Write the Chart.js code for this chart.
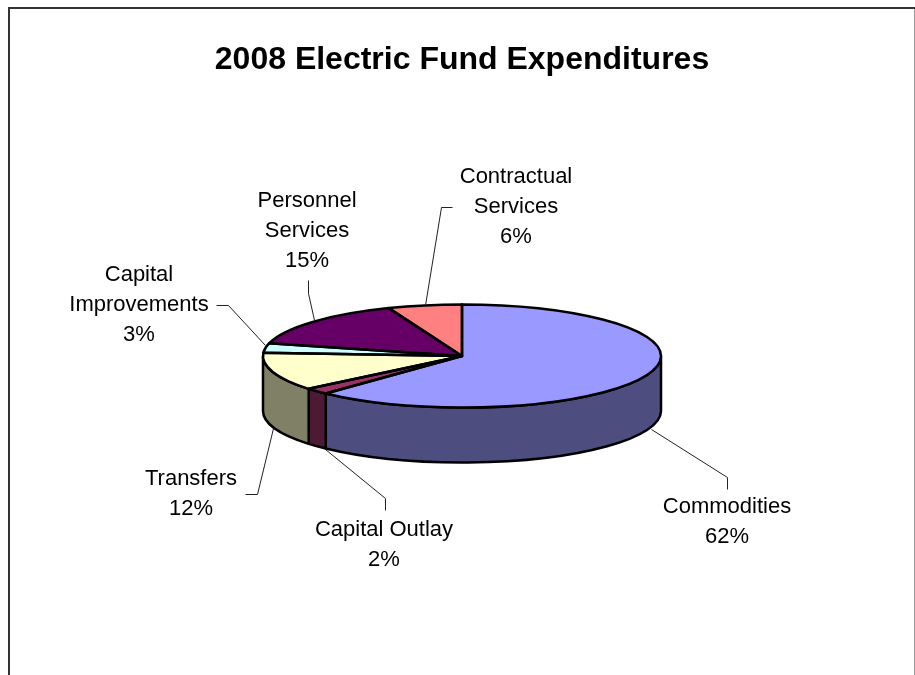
<!DOCTYPE html>
<html>
<head>
<meta charset="utf-8">
<title>2008 Electric Fund Expenditures</title>
<script src="https://cdn.jsdelivr.net/npm/chart.js@4/dist/chart.umd.js"></script>
<style>
  html, body { margin: 0; padding: 0; background: #fff; overflow: hidden; }
  canvas { display: block; }
</style>
</head>
<body>
<canvas id="myChart" width="915" height="675"></canvas>
<script>
const categories = ["Commodities", "Capital Outlay", "Transfers", "Capital Improvements", "Personnel Services", "Contractual Services"];
const values = [62, 2, 12, 3, 15, 6];
const labelLines = [["Commodities"], ["Capital Outlay"], ["Transfers"], ["Capital", "Improvements"], ["Personnel", "Services"], ["Contractual", "Services"]];

const topColors = ["#9999FF", "#993366", "#FFFFCC", "#CCFFFF", "#660066", "#FF8080"];
const wallColors = ["#4D4D80", "#4D1A33", "#808066", "#668080", "#330033", "#804040"];

// pie proportions: the circle is flattened to an ellipse and given a side wall
const RADIUS = 199;
const SQUASH = 51.5 / 199;
const DEPTH = 55;
const FONT = '22px "Liberation Sans", Arial, sans-serif';
const LINE_HEIGHT = 30;

// label centre (x, y of first line) and its leader line, per slice
const labelPos = [[727, 507], [384, 530], [191, 479], [139, 275], [307, 201], [516, 177]];
const leaders = [
  [[727, 489], [727, 477], [651, 429]],
  [[385, 510], [385, 498], [325, 449]],
  [[245, 494], [257, 494], [273, 428]],
  [[216, 305], [228, 305], [265, 345]],
  [[308, 280], [308, 293], [314, 320]],
  [[452, 207], [441, 207], [425, 305]],
];

const frame = {
  id: "frame",
  beforeDraw(chart) {
    const ctx = chart.ctx;
    ctx.save();
    ctx.fillStyle = "#fff";
    ctx.fillRect(0, 0, chart.width, chart.height);
    ctx.fillStyle = "#333";
    ctx.fillRect(8, 7, 907, 2);
    ctx.fillRect(8, 7, 2, 668);
    ctx.fillStyle = "#999";
    ctx.fillRect(914, 9, 1, 666);
    ctx.restore();
  },
};

const pie3d = {
  id: "pie3d",
  beforeDatasetsDraw(chart) {
    const ctx = chart.ctx;
    const arcs = chart.getDatasetMeta(0).data;
    const rx = arcs[0].outerRadius;
    const ry = rx * SQUASH;
    const cx = arcs[0].x;
    const cy = arcs[0].y;

    // only the front half of the rim is visible
    ctx.save();
    ctx.strokeStyle = "#000";
    ctx.lineWidth = 2.5;
    ctx.lineJoin = "round";
    arcs.forEach((arc, i) => {
      const a0 = Math.max(arc.startAngle, 0);
      const a1 = Math.min(arc.endAngle, Math.PI);
      if (a1 <= a0) return;
      ctx.beginPath();
      ctx.ellipse(cx, cy, rx, ry, 0, a0, a1);
      ctx.ellipse(cx, cy + DEPTH, rx, ry, 0, a1, a0, true);
      ctx.closePath();
      ctx.fillStyle = wallColors[i];
      ctx.fill();
      ctx.stroke();
    });
    ctx.restore();

    // the library draws the slices inside this flattened space
    ctx.save();
    ctx.translate(cx, cy);
    ctx.scale(1, SQUASH);
    ctx.translate(-cx, -cy);
  },
  afterDatasetsDraw(chart) {
    const ctx = chart.ctx;
    ctx.restore();
    const arcs = chart.getDatasetMeta(0).data;

    ctx.save();
    ctx.strokeStyle = "#000";
    ctx.lineWidth = 2.5;
    ctx.lineJoin = "round";
    arcs.forEach((arc) => {
      ctx.beginPath();
      ctx.moveTo(arc.x, arc.y);
      ctx.ellipse(arc.x, arc.y, arc.outerRadius, arc.outerRadius * SQUASH, 0, arc.startAngle, arc.endAngle);
      ctx.closePath();
      ctx.stroke();
    });

    ctx.strokeStyle = "#222";
    ctx.lineWidth = 1;
    leaders.forEach((pts) => {
      ctx.beginPath();
      pts.forEach((p, i) => {
        if (i === 0) ctx.moveTo(p[0] + 0.5, p[1] + 0.5);
        else ctx.lineTo(p[0] + 0.5, p[1] + 0.5);
      });
      ctx.stroke();
    });

    ctx.fillStyle = "#000";
    ctx.font = FONT;
    ctx.textAlign = "center";
    ctx.textBaseline = "middle";
    labelLines.forEach((lines, i) => {
      const rows = lines.concat(values[i] + "%");
      rows.forEach((row, r) => {
        ctx.fillText(row, labelPos[i][0], labelPos[i][1] + r * LINE_HEIGHT);
      });
    });
    ctx.restore();
  },
};

const canvas = document.getElementById("myChart");
new Chart(canvas, {
  type: "pie",
  data: {
    labels: categories,
    datasets: [{
      data: values,
      backgroundColor: topColors,
      borderWidth: 0,
      radius: RADIUS,
      clip: false,
    }],
  },
  options: {
    responsive: false,
    animation: false,
    events: [],
    layout: { padding: { left: 9, right: 0, top: 0, bottom: 42.4 } },
    plugins: {
      legend: { display: false },
      tooltip: { enabled: false },
      title: {
        display: true,
        text: "2008 Electric Fund Expenditures",
        color: "#000",
        font: { family: '"Liberation Sans", Arial, sans-serif', size: 32, weight: "bold", lineHeight: 1.2 },
        padding: { top: 41, bottom: 0 },
      },
    },
  },
  plugins: [frame, pie3d],
});
</script>
</body>
</html>
